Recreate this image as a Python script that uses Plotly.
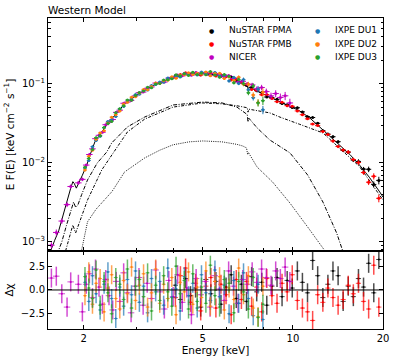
import plotly.graph_objects as go
from plotly.subplots import make_subplots

# ---------------- data ----------------
# NICER
nicer_e = [1.56, 1.62, 1.69, 1.76, 1.81, 1.92, 1.98,
           2.04, 2.09, 2.14, 2.19, 2.25, 2.31, 2.37, 2.43, 2.50, 2.57, 2.64, 2.72, 2.80, 2.88, 2.97,
           3.06, 3.16, 3.26, 3.37, 3.48, 3.60, 3.72, 3.85, 3.98,
           4.12, 4.27, 4.42, 4.58, 4.75, 4.92,
           5.10, 5.29, 5.48, 5.68, 5.89,
           6.10, 6.33, 6.56, 6.80,
           7.05, 7.31, 7.58, 7.86,
           8.15, 8.45, 8.76,
           9.08, 9.42, 9.77]
nicer_f = [9.1e-4, 1.32e-3, 1.84e-3, 2.97e-3, 5.04e-3, 5.6e-3, 6.2e-3,
           9.4e-3, 1.28e-2, 1.51e-2, 2.03e-2, 2.24e-2, 2.44e-2, 3.05e-2, 3.27e-2, 3.55e-2, 4.37e-2, 4.66e-2, 5.7e-2, 5.9e-2, 6.19e-2, 7.06e-2,
           7.75e-2, 7.89e-2, 8.82e-2, 9.18e-2, 0.1026, 0.1036, 0.1056, 0.1183, 0.1203,
           0.130, 0.1266, 0.1335, 0.1285, 0.1393, 0.1346,
           0.1376, 0.1287, 0.1358, 0.1303, 0.1235,
           0.1281, 0.1177, 0.1059, 0.1081,
           0.0999, 0.0975, 0.0871, 0.0903,
           0.0801, 0.0706, 0.0756,
           0.0675, 0.0708, 0.0575]
nicer_err = [0.09, 0.09, 0.08, 0.07, 0.06, 0.06, 0.05,
             0.04, 0.04, 0.03, 0.03, 0.03, 0.03, 0.03, 0.03, 0.025, 0.025, 0.025, 0.025, 0.025, 0.02, 0.02,
             0.02, 0.02, 0.02, 0.02, 0.02, 0.02, 0.02, 0.02, 0.02,
             0.02, 0.02, 0.02, 0.02, 0.02, 0.02,
             0.02, 0.02, 0.02, 0.02, 0.025,
             0.025, 0.03, 0.03, 0.04,
             0.05, 0.06, 0.07, 0.08,
             0.09, 0.1, 0.1,
             0.12, 0.12, 0.13]
nicer_res = [1.25, 1.45, -0.4, -1.8, 0.85, 0.6, -2.3,
             0.6, 1.7, -0.8, 2.2, 0.3, -1.5, 1.1, -0.6, -2.1, 0.9, -1.2, 1.8, -0.3, -2.4, 0.4,
             1.3, -1.6, 0.7, -0.9, 2.1, -0.2, -2.0, 1.0, -0.7,
             1.6, -1.3, 0.2, -2.6, 1.2, -0.5,
             0.9, -1.8, 1.5, 0.1, -1.1,
             2.0, 0.4, -1.4, 1.1,
             0.6, 1.9, 0.8, 2.2,
             1.3, 0.5, 2.0,
             1.2, 2.4, 0.9]

# IXPE (same binning for the three DUs)
ixpe_e = [2.02, 2.08, 2.14, 2.20, 2.27, 2.34, 2.41, 2.48, 2.56, 2.64, 2.72, 2.80, 2.89, 2.98,
          3.07, 3.17, 3.27, 3.37, 3.48, 3.59, 3.70, 3.82, 3.94, 4.07, 4.20, 4.34, 4.48, 4.63,
          4.79, 4.95, 5.12, 5.30, 5.49, 5.69, 5.90, 6.12, 6.35, 6.59, 6.84, 7.10, 7.37, 7.65, 7.94]
ixpe_err = [0.04, 0.04, 0.035, 0.035, 0.03, 0.03, 0.03, 0.03, 0.025, 0.025, 0.025, 0.025,
            0.02, 0.02, 0.02, 0.02, 0.02, 0.02, 0.02, 0.02, 0.02, 0.02, 0.02, 0.02, 0.02, 0.02, 0.02, 0.02,
            0.025, 0.025, 0.025, 0.03, 0.03, 0.035, 0.035,
            0.04, 0.045, 0.05, 0.06, 0.07, 0.08, 0.1, 0.12]
du1_f = [8.63e-3, 1.076e-2, 1.61e-2, 1.923e-2, 2.174e-2, 2.79e-2, 3.36e-2, 3.53e-2, 3.87e-2, 4.83e-2,
         5.2e-2, 6.11e-2, 6.43e-2, 7.34e-2, 7.4e-2, 8.33e-2, 8.36e-2, 9.59e-2, 9.82e-2, 0.1059,
         0.1053, 0.1186, 0.1183, 0.1248, 0.1224, 0.1353, 0.1322, 0.1379, 0.1295, 0.1414,
         0.1342, 0.1293, 0.1401, 0.1268, 0.1287, 0.1094, 0.1211, 0.1017, 0.1136, 0.0843,
         0.0671, 0.0859, 0.0471]
du1_res = [0.8, -1.2, 1.5, -0.4, -2.1, 0.6, 1.9, -0.9, -3.0, 0.3, -1.7, 1.1, -0.5, 2.0, -1.3,
           0.4, -2.4, 1.2, -0.2, 0.9, -1.6, 2.3, -0.8, 0.1, -2.2, 1.4, -0.6, 0.7, -1.9, 1.6,
           -0.3, -1.1, 2.1, -0.7, 0.5, -2.5, 1.0, -1.4, 1.8, -0.9, -2.7, 0.6, -3.1]
du2_f = [8.16e-3, 1.216e-2, 1.45e-2, 1.998e-2, 2.4e-2, 2.55e-2, 3.2e-2, 3.8e-2, 4.09e-2, 4.55e-2,
         5.57e-2, 5.89e-2, 6.8e-2, 6.9e-2, 7.68e-2, 8.54e-2, 8.46e-2, 9.31e-2, 0.1029, 0.1011,
         0.1101, 0.1114, 0.1233, 0.1181, 0.130, 0.1311, 0.1389, 0.1319, 0.137, 0.1333,
         0.142, 0.1269, 0.1354, 0.1364, 0.1172, 0.1226, 0.1107, 0.122, 0.0994, 0.0995,
         0.0726, 0.0583, 0.0786]
du2_res = [-0.6, 1.9, -1.5, 0.7, 1.2, -2.3, 0.2, 1.6, -0.9, -2.0, 1.0, -0.4, 2.4, -1.1, 0.5,
           1.7, -1.8, -0.3, 2.2, -1.4, 0.6, -0.9, 1.3, -2.6, 0.8, -0.2, 1.9, -1.5, 0.3, -0.8,
           2.0, -1.7, 0.9, 1.4, -2.1, 0.2, -1.0, 2.3, -0.5, 1.5, -1.9, -2.8, 0.4]
du3_f = [8.83e-3, 1.139e-2, 1.482e-2, 2.093e-2, 2.21e-2, 2.81e-2, 3.15e-2, 3.36e-2, 4.32e-2, 4.86e-2,
         5.29e-2, 6.28e-2, 6.24e-2, 7.12e-2, 7.77e-2, 8.14e-2, 9.1e-2, 8.96e-2, 9.96e-2, 0.1017,
         0.1121, 0.1129, 0.1161, 0.1308, 0.127, 0.1342, 0.1284, 0.1406, 0.1319, 0.137,
         0.1305, 0.1441, 0.1294, 0.1218, 0.1314, 0.125, 0.1034, 0.1143, 0.1013, 0.0774,
         0.0945, 0.0575, 0.0615]
du3_res = [1.4, 0.2, -0.9, 2.1, -1.6, 0.9, -0.3, -2.5, 1.3, 0.6, -1.0, 2.2, -1.9, 0.4, 1.1,
           -0.7, 1.8, -2.2, 0.5, -1.1, 1.5, -0.2, -1.7, 2.5, -0.4, 1.0, -2.0, 1.7, -1.2, 0.3,
           -1.4, 2.6, -0.6, -1.8, 1.1, 0.7, -2.4, 0.9, -0.2, -2.0, 1.3, -2.9, -1.5]

# NuSTAR (same binning for FPMA / FPMB)
nu_e = [4.05, 4.21, 4.38, 4.55, 4.73, 4.92, 5.12, 5.32, 5.53, 5.75, 5.98, 6.22, 6.47, 6.73,
        7.0, 7.28, 7.57, 7.87, 8.18, 8.51, 8.85, 9.2, 9.57, 9.95, 10.35, 10.76, 11.19, 11.64,
        12.1, 12.59, 13.09, 13.61, 14.16, 14.72, 15.31, 15.92, 16.56, 17.22, 17.91, 18.63, 19.37]
nu_err = [0.02, 0.02, 0.02, 0.02, 0.02, 0.02, 0.02, 0.02, 0.02, 0.02, 0.02, 0.02, 0.02, 0.02,
          0.02, 0.02, 0.02, 0.02, 0.025, 0.025, 0.025, 0.025, 0.025, 0.025, 0.03, 0.03, 0.03, 0.03,
          0.035, 0.035, 0.035, 0.045, 0.045, 0.045, 0.055, 0.055, 0.065, 0.065, 0.08, 0.09, 0.11]
fpma_f = [0.1252, 0.1254, 0.1355, 0.1333, 0.1365, 0.1311, 0.1382, 0.1323, 0.1339, 0.1251,
          0.1261, 0.1226, 0.1108, 0.1068, 0.0958, 0.0908, 0.0823, 0.0778, 0.0684, 0.0671,
          0.0639, 0.0565, 0.0547, 0.0505, 0.0500, 0.0443, 0.0386, 0.0376, 0.0318, 0.0256,
          0.0232, 0.0215, 0.0186, 0.01447, 0.01369, 0.01087, 0.01046, 8.36e-3, 8.32e-3, 5.35e-3, 6.02e-3]
fpma_res = [0.5, -1.0, 1.2, -0.6, 0.2, -1.8, 1.1, -0.4, 0.9, -1.5, 0.3, 1.6, -0.9, 0.6,
            -1.2, 1.4, -0.2, 0.8, -1.6, 0.4, 1.3, -0.7, 1.0, 0.2, 2.0, 0.8, -0.3, 3.1,
            1.5, -0.8, 0.6, 2.0, 1.5, -1.2, 0.4, -0.7, 1.2, 0.3, 2.8, -0.3, 3.2]
fpmb_f = [0.122, 0.1318, 0.1384, 0.1314, 0.1379, 0.130, 0.1363, 0.1369, 0.1265, 0.1305,
          0.1240, 0.1126, 0.1153, 0.1034, 0.1000, 0.0853, 0.0831, 0.0731, 0.0734, 0.0654,
          0.0597, 0.0585, 0.0531, 0.0522, 0.0456, 0.0408, 0.0362, 0.0311, 0.0297, 0.0251,
          0.0229, 0.0190, 0.01615, 0.01461, 0.01377, 0.01105, 0.01014, 7.56e-3, 5.71e-3, 6.79e-3, 3.57e-3]
fpmb_res = [-0.8, 1.5, 2.3, -1.3, 0.7, -2.2, 0.4, 1.3, -1.9, 0.6, -0.5, -2.6, 1.1, -1.0,
            0.9, -1.7, 0.3, -2.3, 1.2, -0.6, -1.4, 0.7, -0.2, 1.6, -1.1, -1.9, -2.3, -3.2,
            -0.5, -1.3, 0.2, -0.8, -1.6, -1.0, 0.5, -0.4, 0.7, -1.2, -2.0, 2.6, -1.8]

# best-fit model and its three components
model_e = [1.52, 1.55, 1.60, 1.65, 1.69, 1.73, 1.77, 1.81, 1.84, 1.86, 1.89, 1.92, 1.98, 2.05,
           2.09, 2.18, 2.30, 2.44, 2.50, 2.60, 2.74, 3.00, 3.20, 3.40, 3.64, 3.98, 4.30, 4.63,
           5.00, 5.69, 6.00, 6.50, 6.90, 7.04, 7.08, 7.12, 7.20, 7.60, 8.00, 8.40, 9.00, 9.50,
           10.5, 11.4, 12.3, 13.2, 14.3, 15.5, 16.7, 18.0, 19.5, 20.0]
model_f = [6.3e-4, 7.8e-4, 1.05e-3, 1.38e-3, 1.9e-3, 2.77e-3, 3.6e-3, 4.8e-3, 5.8e-3, 5.5e-3,
           4.8e-3, 5.4e-3, 7.0e-3, 9.5e-3, 1.2e-2, 1.85e-2, 2.5e-2, 3.4e-2, 3.75e-2, 4.5e-2,
           5.6e-2, 7.2e-2, 8.4e-2, 9.5e-2, 0.106, 0.122, 0.131, 0.136, 0.136, 0.130, 0.125,
           0.112, 0.101, 0.097, 0.087, 0.090, 0.089, 0.082, 0.074, 0.068, 0.060, 0.054, 0.046,
           0.037, 0.0286, 0.022, 0.0169, 0.0128, 0.0094, 0.0066, 0.0043, 0.0037]
disk_e = [1.63, 1.69, 1.75, 1.80, 1.84, 1.85, 1.88, 1.91, 1.97, 2.06, 2.22, 2.39, 2.48, 2.80,
          3.20, 3.98, 5.00, 5.80, 6.50, 6.90, 7.04, 7.08, 7.12, 7.60, 8.38, 9.78, 11.2, 12.6, 14.0, 14.8]
disk_f = [7.0e-4, 1.0e-3, 1.6e-3, 2.3e-3, 3.1e-3, 3.2e-3, 2.75e-3, 2.9e-3, 4.0e-3, 6.1e-3,
          1.0e-2, 1.38e-2, 1.79e-2, 2.86e-2, 3.82e-2, 5.42e-2, 5.9e-2, 5.75e-2, 5.1e-2, 4.4e-2,
          4.1e-2, 3.3e-2, 3.7e-2, 2.77e-2, 1.95e-2, 1.34e-2, 7.05e-3, 3.2e-3, 1.3e-3, 7.0e-4]
comp_e = [1.74, 1.77, 1.81, 1.84, 1.88, 1.97, 2.06, 2.30, 2.48, 2.80, 3.20, 3.98, 5.00, 5.80,
          6.50, 7.04, 7.08, 7.12, 8.38, 9.06, 10.5, 12.6, 14.3, 16.7, 19.5, 20.0]
comp_f = [7.7e-4, 9.5e-4, 1.3e-3, 1.64e-3, 1.3e-3, 2.2e-3, 3.4e-3, 8.2e-3, 1.26e-2, 2.47e-2,
          3.6e-2, 5.1e-2, 5.75e-2, 5.6e-2, 5.3e-2, 5.0e-2, 4.4e-2, 4.8e-2, 4.3e-2, 3.8e-2,
          3.1e-2, 2.4e-2, 1.55e-2, 9.0e-3, 3.9e-3, 3.4e-3]
refl_e = [1.97, 2.06, 2.20, 2.35, 2.48, 2.52, 2.74, 3.20, 3.59, 3.98, 4.50, 5.00, 5.80, 6.50,
          6.80, 7.00, 7.06, 7.10, 7.59, 8.55, 9.78, 11.2, 12.8]
refl_f = [8.0e-4, 1.8e-3, 2.6e-3, 3.4e-3, 4.3e-3, 4.7e-3, 7.7e-3, 1.16e-2, 1.45e-2, 1.7e-2,
          1.85e-2, 1.9e-2, 1.85e-2, 1.72e-2, 1.64e-2, 1.55e-2, 1.28e-2, 1.36e-2, 8.9e-3, 5.75e-3,
          3.1e-3, 1.55e-3, 7.7e-4]

x_ticks = [2, 5, 10, 20]
y_ticks = [1e-3, 1e-2, 1e-1]
y_ticktext = ["10<sup>−3</sup>", "10<sup>−2</sup>", "10<sup>−1</sup>"]
res_ticks = [-2.5, 0.0, 2.5]
res_ticktext = ["−2.5", "0.0", "2.5"]

# name, energies, flux, rel. error, residuals, colour, legend column/row, x-err percent
datasets = [
    ("NuSTAR FPMA", nu_e, fpma_f, nu_err, fpma_res, "#000000", (0, 0), 2.0),
    ("NuSTAR FPMB", nu_e, fpmb_f, nu_err, fpmb_res, "#ff0000", (0, 1), 2.0),
    ("NICER", nicer_e, nicer_f, nicer_err, nicer_res, "#c000c0", (0, 2), 2.5),
    ("IXPE DU1", ixpe_e, du1_f, ixpe_err, du1_res, "#1f77b4", (1, 0), 1.5),
    ("IXPE DU2", ixpe_e, du2_f, ixpe_err, du2_res, "#ff7f0e", (1, 1), 1.5),
    ("IXPE DU3", ixpe_e, du3_f, ixpe_err, du3_res, "#2ca02c", (1, 2), 1.5),
]


def rgba(hex_col, a):
    h = hex_col.lstrip("#")
    return "rgba(%d,%d,%d,%.2f)" % (int(h[0:2], 16), int(h[2:4], 16), int(h[4:6], 16), a)


fig = make_subplots(rows=2, cols=1, shared_xaxes=True, vertical_spacing=0,
                    row_heights=[0.749, 0.251])

# model curves
for xs, ys, dash, w in [(model_e, model_f, "solid", 1.0),
                        (disk_e, disk_f, "4px,1.5px,1px,1.5px", 1.0),
                        (comp_e, comp_f, "3px,1.5px,1px,1.5px", 1.0),
                        (refl_e, refl_f, "1px,1.2px", 0.9)]:
    fig.add_trace(go.Scatter(x=xs, y=ys, mode="lines", showlegend=False, hoverinfo="skip",
                             line=dict(color="black", width=w, dash=dash)), row=1, col=1)

for name, es, fs, rel, res, col, pos, xpc in datasets:
    fig.add_trace(go.Scatter(
        x=es, y=fs, mode="markers", name=name, showlegend=False,
        marker=dict(color=col, size=3),
        error_y=dict(type="data", array=[f * r for f, r in zip(fs, rel)],
                     thickness=1, width=0, color=col),
        error_x=dict(type="percent", value=xpc, thickness=1, width=0, color=col),
    ), row=1, col=1)

for name, es, fs, rel, res, col, pos, xpc in datasets:
    fig.add_trace(go.Scatter(
        x=es, y=res, mode="markers", showlegend=False,
        marker=dict(color=col, size=2),
        error_y=dict(type="constant", value=1, thickness=1.5, width=0, color=rgba(col, 0.7)),
        error_x=dict(type="percent", value=xpc, thickness=1, width=0, color=rgba(col, 0.7)),
    ), row=2, col=1)

fig.add_hline(y=0, line=dict(color="black", width=1), row=2, col=1)

# legend drawn as text, two columns like the original
col_dot_x = [0.4866, 0.803]
col_txt_x = [0.5343, 0.8507]
row_y = [0.9614, 0.9180, 0.8746]
for name, es, fs, rel, res, col, pos, xpc in datasets:
    c, r = pos
    fig.add_annotation(x=col_dot_x[c], y=row_y[r], xref="paper", yref="paper",
                       text="●", showarrow=False, font=dict(size=6, color=col),
                       xanchor="center", yanchor="middle")
    fig.add_annotation(x=col_txt_x[c], y=row_y[r], xref="paper", yref="paper",
                       text=name, showarrow=False, font=dict(size=9, color="black"),
                       xanchor="left", yanchor="middle")

axis_style = dict(showline=True, linecolor="black", linewidth=1, mirror="allticks",
                  ticks="inside", ticklen=4, tickwidth=1, tickcolor="black",
                  showgrid=False, zeroline=False, automargin=False,
                  tickfont=dict(size=10, color="black"))

xr = [0.1818, 1.30103]
fig.update_xaxes(type="log", range=xr, tickvals=x_ticks, ticktext=[str(t) for t in x_ticks],
                 minor=dict(tickvals=[3, 4, 6, 7, 8, 9], ticks="inside", ticklen=2.5,
                            tickcolor="black"),
                 **axis_style)
fig.update_xaxes(showticklabels=False, row=1, col=1)
fig.update_xaxes(title=dict(text="Energy [keV]", font=dict(size=10.5, color="black"), standoff=3),
                 row=2, col=1)

fig.update_yaxes(type="log", range=[-3.1135, -0.165], tickvals=y_ticks, ticktext=y_ticktext,
                 minor=dict(tickvals=[8e-4, 9e-4, 2e-3, 3e-3, 4e-3, 5e-3, 6e-3, 7e-3, 8e-3, 9e-3,
                                      2e-2, 3e-2, 4e-2, 5e-2, 6e-2, 7e-2, 8e-2, 9e-2,
                                      2e-1, 3e-1, 4e-1, 5e-1, 6e-1],
                            ticks="inside", ticklen=2.5, tickcolor="black"),
                 title=dict(text="E F(E) [keV cm<sup>−2</sup> s<sup>−1</sup>]",
                            font=dict(size=10.5, color="black"), standoff=5),
                 row=1, col=1, **axis_style)
fig.update_yaxes(range=[-4.1, 4.1], tickvals=res_ticks, ticktext=res_ticktext,
                 title=dict(text="Δχ", font=dict(size=10.5, color="black"), standoff=5),
                 row=2, col=1, **axis_style)

fig.update_layout(
    width=395, height=361,
    margin=dict(l=48, r=12, t=18, b=32),
    paper_bgcolor="white", plot_bgcolor="white",
    font=dict(family="DejaVu Sans", size=10.5, color="black"),
    title=dict(text="Western Model", x=48 / 395, xanchor="left", y=1 - 10 / 361,
               yanchor="middle", font=dict(size=10.5, color="black")),
    showlegend=False,
)

fig.write_html("out.html", config={"displayModeBar": False},
               post_script="document.body.style.margin='0px';")
